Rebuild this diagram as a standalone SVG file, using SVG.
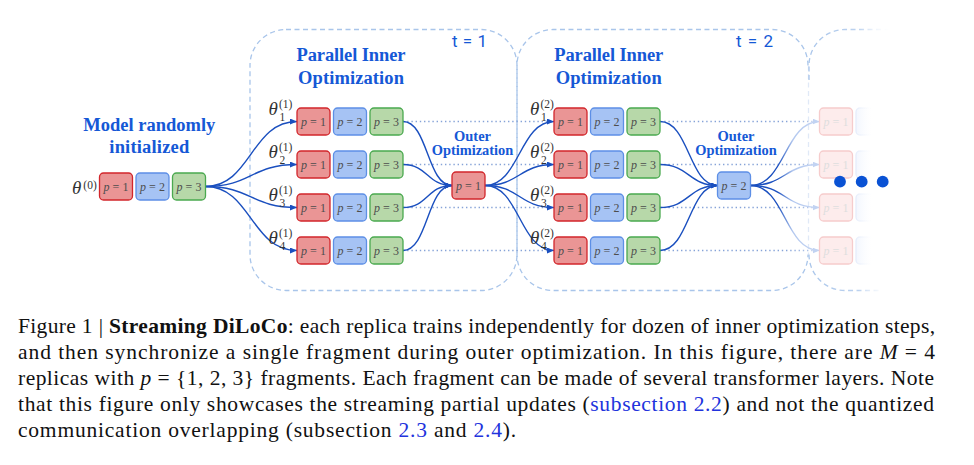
<svg xmlns="http://www.w3.org/2000/svg" width="974" height="465" viewBox="0 0 974 465">
<defs>
<style>
.panel{fill:none;stroke:#a9c5ea;stroke-width:1.3;stroke-dasharray:5 3.5}
.dotl{fill:none;stroke:#86a3d8;stroke-width:1.3;stroke-dasharray:1.4 2.8}
.cv{fill:none;stroke:#1a4fbf;stroke-width:1.4}
.cvf{fill:none;stroke:url(#fadeLine);stroke-width:1.4}
.r{fill:#ea9595;stroke:#d2262b;stroke-width:1.3}
.b{fill:#a6c3f4;stroke:#5d8fe6;stroke-width:1.3}
.g{fill:#b7d8a9;stroke:#4aa94f;stroke-width:1.3}
.rf{fill:#fdecec;stroke:#f6cccc;stroke-width:1.3}
.bf{fill:url(#fadeBlueFill);stroke:url(#fadeBlueStroke);stroke-width:1.3}
.bt{font-family:"Liberation Serif",serif;font-size:12px;fill:#4d4d4d;text-anchor:middle}
.btf{font-family:"Liberation Serif",serif;font-size:12px;fill:#dedede;text-anchor:middle}
.i{font-style:italic}
.lbl{font-family:"Liberation Serif",serif;font-weight:bold;fill:#1558d6;text-anchor:middle}
.tl{font-family:Roboto,"Liberation Sans",sans-serif;font-size:17px;fill:#1558d6}
.th{font-family:"Liberation Serif",serif;font-style:italic;font-size:19px;fill:#333}
.sc{font-family:"Liberation Serif",serif;font-size:11.5px;fill:#333}
.cap{font-family:"Liberation Serif",serif;font-size:21.5px;fill:#111}
.lnk{fill:#2233dd}
</style>
<marker id="ah" markerUnits="userSpaceOnUse" markerWidth="7" markerHeight="6" refX="7" refY="3" orient="auto"><path d="M0,0 L7,3 L0,6 z" fill="#1a4fbf"/></marker>
<marker id="ahf" markerUnits="userSpaceOnUse" markerWidth="7" markerHeight="6" refX="7" refY="3" orient="auto"><path d="M0,0 L7,3 L0,6 z" fill="#c2d3f2"/></marker>
<linearGradient id="fadeLine" gradientUnits="userSpaceOnUse" x1="750" y1="0" x2="819" y2="0">
<stop offset="0" stop-color="#1a4fbf"/><stop offset="0.4" stop-color="#1a4fbf"/><stop offset="0.62" stop-color="#b3c8ef"/><stop offset="1" stop-color="#c8d7f3"/>
</linearGradient>
<linearGradient id="fadeDot" gradientUnits="userSpaceOnUse" x1="660" y1="0" x2="819" y2="0">
<stop offset="0" stop-color="#86a3d8"/><stop offset="0.8" stop-color="#86a3d8"/><stop offset="1" stop-color="#c9d6ef"/>
</linearGradient>
<linearGradient id="fadeBlueFill" gradientUnits="userSpaceOnUse" x1="856" y1="0" x2="874" y2="0">
<stop offset="0" stop-color="#f2f6fe"/><stop offset="1" stop-color="#ffffff" stop-opacity="0"/>
</linearGradient>
<linearGradient id="fadeBlueStroke" gradientUnits="userSpaceOnUse" x1="856" y1="0" x2="874" y2="0">
<stop offset="0" stop-color="#e6edfb"/><stop offset="1" stop-color="#ffffff" stop-opacity="0"/>
</linearGradient>
<linearGradient id="fadePanel" gradientUnits="userSpaceOnUse" x1="809" y1="0" x2="892" y2="0">
<stop offset="0" stop-color="#a9c5ea"/><stop offset="0.6" stop-color="#bcd2ef"/><stop offset="1" stop-color="#ffffff" stop-opacity="0"/>
</linearGradient>
</defs>

<g id="panels">
<rect id="panel-t1" class="panel" x="250" y="29.5" width="267" height="261" rx="36"/>
<path id="panel-t2" class="panel" d="M808,65.5 A36,36 0 0 0 772,29.5 L553,29.5 A36,36 0 0 0 517,65.5 L517,254.5 A36,36 0 0 0 553,290.5 L772,290.5 A36,36 0 0 0 808,254.5"/>
<path class="panel" style="stroke:#e0e9f7" d="M808.5,65.5 L808.5,254.5"/>
<path id="panel-t3" class="panel" style="stroke:url(#fadePanel)" d="M809,80 L809,65.5 A36,36 0 0 1 845,29.5 L892,29.5 M809,254.5 A36,36 0 0 0 845,290.5 L880,290.5"/>
</g>

<g id="labels">
<text class="tl" x="452" y="47.3" textLength="35">t = 1</text>
<text class="tl" x="736" y="47.3" textLength="37">t = 2</text>
<text class="lbl" x="351" y="60.7" font-size="18.5" textLength="109">Parallel Inner</text>
<text class="lbl" x="351" y="84" font-size="18.5" textLength="106">Optimization</text>
<text class="lbl" x="608.7" y="60.7" font-size="18.5" textLength="109">Parallel Inner</text>
<text class="lbl" x="608.7" y="84" font-size="18.5" textLength="106">Optimization</text>
<text class="lbl" x="149.3" y="131" font-size="18.5" textLength="132">Model randomly</text>
<text class="lbl" x="149.3" y="153.3" font-size="18.5" textLength="80">initialized</text>
<text class="lbl" x="472.5" y="141" font-size="13.6" textLength="37" lengthAdjust="spacingAndGlyphs">Outer</text>
<text class="lbl" x="472.5" y="154.5" font-size="13.6" textLength="81.6" lengthAdjust="spacingAndGlyphs">Optimization</text>
<text class="lbl" x="736" y="141" font-size="13.6" textLength="37" lengthAdjust="spacingAndGlyphs">Outer</text>
<text class="lbl" x="736" y="154.5" font-size="13.6" textLength="81.6" lengthAdjust="spacingAndGlyphs">Optimization</text>
</g>

<g id="connectors">
<path class="dotl" d="M403,121.5 H554 M403,164.5 H554 M403,207.5 H554 M403,250.5 H554"/>
<path class="dotl" style="stroke:url(#fadeDot)" d="M660,121.5 H819 M660,164.5 H819 M660,207.5 H819 M660,250.5 H819"/>
<path class="cv" marker-end="url(#ah)" d="M205.5,186.5 C251,186.5 251,121.5 297,121.5"/>
<path class="cv" marker-end="url(#ah)" d="M205.5,186.5 C251,186.5 251,164.5 297,164.5"/>
<path class="cv" marker-end="url(#ah)" d="M205.5,186.5 C251,186.5 251,207.5 297,207.5"/>
<path class="cv" marker-end="url(#ah)" d="M205.5,186.5 C251,186.5 251,250.5 297,250.5"/>
<path class="cv" marker-end="url(#ah)" d="M403,121.5 C428,121.5 427,185.5 452,185.5"/>
<path class="cv" marker-end="url(#ah)" d="M403,164.5 C428,164.5 427,185.5 452,185.5"/>
<path class="cv" marker-end="url(#ah)" d="M403,207.5 C428,207.5 427,185.5 452,185.5"/>
<path class="cv" marker-end="url(#ah)" d="M403,250.5 C428,250.5 427,185.5 452,185.5"/>
<path class="cv" marker-end="url(#ah)" d="M485,185.5 C519.5,185.5 519.5,121.5 554,121.5"/>
<path class="cv" marker-end="url(#ah)" d="M485,185.5 C519.5,185.5 519.5,164.5 554,164.5"/>
<path class="cv" marker-end="url(#ah)" d="M485,185.5 C519.5,185.5 519.5,207.5 554,207.5"/>
<path class="cv" marker-end="url(#ah)" d="M485,185.5 C519.5,185.5 519.5,250.5 554,250.5"/>
<path class="cv" marker-end="url(#ah)" d="M660,121.5 C689,121.5 689,185.5 717.5,185.5"/>
<path class="cv" marker-end="url(#ah)" d="M660,164.5 C689,164.5 689,185.5 717.5,185.5"/>
<path class="cv" marker-end="url(#ah)" d="M660,207.5 C689,207.5 689,185.5 717.5,185.5"/>
<path class="cv" marker-end="url(#ah)" d="M660,250.5 C689,250.5 689,185.5 717.5,185.5"/>
<path class="cvf" marker-end="url(#ahf)" d="M750.5,185.5 C785,185.5 785,121.5 819.5,121.5"/>
<path class="cvf" marker-end="url(#ahf)" d="M750.5,185.5 C785,185.5 785,164.5 819.5,164.5"/>
<path class="cvf" marker-end="url(#ahf)" d="M750.5,185.5 C785,185.5 785,207.5 819.5,207.5"/>
<path class="cvf" marker-end="url(#ahf)" d="M750.5,185.5 C785,185.5 785,250.5 819.5,250.5"/>
</g>

<g id="init-model">
<text class="th" x="72" y="194.3">θ</text><text class="sc" x="83.3" y="188.5">(0)</text>
<rect class="r" x="99.5" y="173" width="33" height="27" rx="4"/><text class="bt" x="116" y="190.5"><tspan class="i">p</tspan> = 1</text>
<rect class="b" x="136" y="173" width="33" height="27" rx="4"/><text class="bt" x="152.5" y="190.5"><tspan class="i">p</tspan> = 2</text>
<rect class="g" x="172.5" y="173" width="33" height="27" rx="4"/><text class="bt" x="189" y="190.5"><tspan class="i">p</tspan> = 3</text>
</g>

<g id="t1-replica1">
<text class="th" x="268.5" y="115">θ</text><text class="sc" x="279" y="107.5">(1)</text><text class="sc" x="279.5" y="120.5">1</text>
<rect class="r" x="297" y="108" width="33" height="27" rx="4"/><text class="bt" x="313.5" y="125.5"><tspan class="i">p</tspan> = 1</text>
<rect class="b" x="333.5" y="108" width="33" height="27" rx="4"/><text class="bt" x="350" y="125.5"><tspan class="i">p</tspan> = 2</text>
<rect class="g" x="370" y="108" width="33" height="27" rx="4"/><text class="bt" x="386.5" y="125.5"><tspan class="i">p</tspan> = 3</text>
</g>
<g id="t1-replica2">
<text class="th" x="268.5" y="158">θ</text><text class="sc" x="279" y="150.5">(1)</text><text class="sc" x="279.5" y="163.5">2</text>
<rect class="r" x="297" y="151" width="33" height="27" rx="4"/><text class="bt" x="313.5" y="168.5"><tspan class="i">p</tspan> = 1</text>
<rect class="b" x="333.5" y="151" width="33" height="27" rx="4"/><text class="bt" x="350" y="168.5"><tspan class="i">p</tspan> = 2</text>
<rect class="g" x="370" y="151" width="33" height="27" rx="4"/><text class="bt" x="386.5" y="168.5"><tspan class="i">p</tspan> = 3</text>
</g>
<g id="t1-replica3">
<text class="th" x="268.5" y="201">θ</text><text class="sc" x="279" y="193.5">(1)</text><text class="sc" x="279.5" y="206.5">3</text>
<rect class="r" x="297" y="194" width="33" height="27" rx="4"/><text class="bt" x="313.5" y="211.5"><tspan class="i">p</tspan> = 1</text>
<rect class="b" x="333.5" y="194" width="33" height="27" rx="4"/><text class="bt" x="350" y="211.5"><tspan class="i">p</tspan> = 2</text>
<rect class="g" x="370" y="194" width="33" height="27" rx="4"/><text class="bt" x="386.5" y="211.5"><tspan class="i">p</tspan> = 3</text>
</g>
<g id="t1-replica4">
<text class="th" x="268.5" y="244">θ</text><text class="sc" x="279" y="236.5">(1)</text><text class="sc" x="279.5" y="249.5">4</text>
<rect class="r" x="297" y="237" width="33" height="27" rx="4"/><text class="bt" x="313.5" y="254.5"><tspan class="i">p</tspan> = 1</text>
<rect class="b" x="333.5" y="237" width="33" height="27" rx="4"/><text class="bt" x="350" y="254.5"><tspan class="i">p</tspan> = 2</text>
<rect class="g" x="370" y="237" width="33" height="27" rx="4"/><text class="bt" x="386.5" y="254.5"><tspan class="i">p</tspan> = 3</text>
</g>
<g id="t1-outer">
<rect class="r" x="452" y="172" width="33" height="27" rx="4"/><text class="bt" x="468.5" y="189.5"><tspan class="i">p</tspan> = 1</text>
</g>

<g id="t2-replica1">
<text class="th" x="530" y="115">θ</text><text class="sc" x="540.5" y="107.5">(2)</text><text class="sc" x="541" y="120.5">1</text>
<rect class="r" x="554" y="108" width="33" height="27" rx="4"/><text class="bt" x="570.5" y="125.5"><tspan class="i">p</tspan> = 1</text>
<rect class="b" x="590.5" y="108" width="33" height="27" rx="4"/><text class="bt" x="607" y="125.5"><tspan class="i">p</tspan> = 2</text>
<rect class="g" x="627" y="108" width="33" height="27" rx="4"/><text class="bt" x="643.5" y="125.5"><tspan class="i">p</tspan> = 3</text>
</g>
<g id="t2-replica2">
<text class="th" x="530" y="158">θ</text><text class="sc" x="540.5" y="150.5">(2)</text><text class="sc" x="541" y="163.5">2</text>
<rect class="r" x="554" y="151" width="33" height="27" rx="4"/><text class="bt" x="570.5" y="168.5"><tspan class="i">p</tspan> = 1</text>
<rect class="b" x="590.5" y="151" width="33" height="27" rx="4"/><text class="bt" x="607" y="168.5"><tspan class="i">p</tspan> = 2</text>
<rect class="g" x="627" y="151" width="33" height="27" rx="4"/><text class="bt" x="643.5" y="168.5"><tspan class="i">p</tspan> = 3</text>
</g>
<g id="t2-replica3">
<text class="th" x="530" y="201">θ</text><text class="sc" x="540.5" y="193.5">(2)</text><text class="sc" x="541" y="206.5">3</text>
<rect class="r" x="554" y="194" width="33" height="27" rx="4"/><text class="bt" x="570.5" y="211.5"><tspan class="i">p</tspan> = 1</text>
<rect class="b" x="590.5" y="194" width="33" height="27" rx="4"/><text class="bt" x="607" y="211.5"><tspan class="i">p</tspan> = 2</text>
<rect class="g" x="627" y="194" width="33" height="27" rx="4"/><text class="bt" x="643.5" y="211.5"><tspan class="i">p</tspan> = 3</text>
</g>
<g id="t2-replica4">
<text class="th" x="530" y="244">θ</text><text class="sc" x="540.5" y="236.5">(2)</text><text class="sc" x="541" y="249.5">4</text>
<rect class="r" x="554" y="237" width="33" height="27" rx="4"/><text class="bt" x="570.5" y="254.5"><tspan class="i">p</tspan> = 1</text>
<rect class="b" x="590.5" y="237" width="33" height="27" rx="4"/><text class="bt" x="607" y="254.5"><tspan class="i">p</tspan> = 2</text>
<rect class="g" x="627" y="237" width="33" height="27" rx="4"/><text class="bt" x="643.5" y="254.5"><tspan class="i">p</tspan> = 3</text>
</g>
<g id="t2-outer">
<rect class="b" x="717.5" y="172" width="33" height="27" rx="4"/><text class="bt" x="734" y="189.5"><tspan class="i">p</tspan> = 2</text>
</g>

<g id="t3-faded">
<rect class="rf" x="819.5" y="108" width="33" height="27" rx="4"/><text class="btf" x="836" y="125.5"><tspan class="i">p</tspan> = 1</text>
<rect class="bf" x="856" y="108" width="33" height="27" rx="4"/>
<rect class="rf" x="819.5" y="151" width="33" height="27" rx="4"/><text class="btf" x="836" y="168.5"><tspan class="i">p</tspan> = 1</text>
<rect class="bf" x="856" y="151" width="33" height="27" rx="4"/>
<rect class="rf" x="819.5" y="194" width="33" height="27" rx="4"/><text class="btf" x="836" y="211.5"><tspan class="i">p</tspan> = 1</text>
<rect class="bf" x="856" y="194" width="33" height="27" rx="4"/>
<rect class="rf" x="819.5" y="237" width="33" height="27" rx="4"/><text class="btf" x="836" y="254.5"><tspan class="i">p</tspan> = 1</text>
<rect class="bf" x="856" y="237" width="33" height="27" rx="4"/>
</g>

<g id="ellipsis" fill="#0a52d4">
<circle cx="840" cy="181.7" r="5.9"/>
<circle cx="861.7" cy="181.7" r="5.9"/>
<circle cx="882.7" cy="181.7" r="5.9"/>
</g>

<g id="caption">
<text class="cap" x="18" y="333" textLength="917" lengthAdjust="spacing">Figure 1 | <tspan font-weight="bold">Streaming DiLoCo</tspan>: each replica trains independently for dozen of inner optimization steps,</text>
<text class="cap" x="18" y="359" textLength="917" lengthAdjust="spacing">and then synchronize a single fragment during outer optimization. In this figure, there are <tspan class="i">M</tspan> = 4</text>
<text class="cap" x="18" y="385" textLength="916" lengthAdjust="spacing">replicas with <tspan class="i">p</tspan> = {1, 2, 3} fragments. Each fragment can be made of several transformer layers. Note</text>
<text class="cap" x="18" y="411" textLength="916" lengthAdjust="spacing">that this figure only showcases the streaming partial updates (<tspan class="lnk">subsection 2.2</tspan>) and not the quantized</text>
<text class="cap" x="18" y="437" textLength="498" lengthAdjust="spacing">communication overlapping (subsection <tspan class="lnk">2.3</tspan> and <tspan class="lnk">2.4</tspan>).</text>
</g>
</svg>
